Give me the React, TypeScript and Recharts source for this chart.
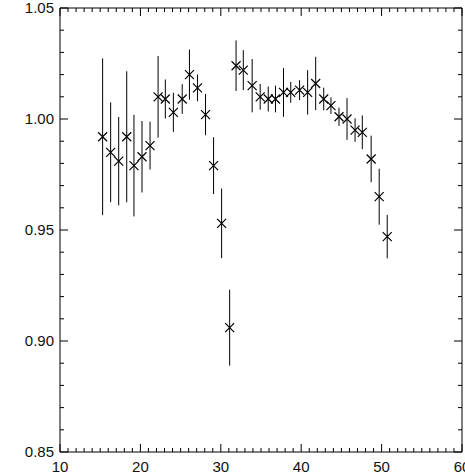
import { ErrorBar, Scatter, ScatterChart, XAxis, YAxis } from "recharts";

const xValues = [
  15.3, 16.3, 17.3, 18.3, 19.2, 20.2, 21.2, 22.2, 23.1, 24.1, 25.2, 26.1, 27.1,
  28.1, 29.1, 30.1, 31.1, 31.9, 32.8, 33.9, 34.9, 35.9, 36.8, 37.8, 38.7, 39.8,
  40.8, 41.8, 42.8, 43.7, 44.7, 45.7, 46.7, 47.6, 48.7, 49.7, 50.7,
];
const yValues = [
  0.992, 0.985, 0.981, 0.992, 0.979, 0.983, 0.988, 1.01, 1.009, 1.003, 1.009,
  1.02, 1.014, 1.002, 0.979, 0.953, 0.906, 1.024, 1.022, 1.015, 1.01, 1.009,
  1.009, 1.012, 1.012, 1.013, 1.012, 1.016, 1.009, 1.006, 1.001, 1.0, 0.995,
  0.994, 0.982, 0.965, 0.947,
];
const yErrors = [
  0.0353, 0.0225, 0.0199, 0.0295, 0.0229, 0.0161, 0.0108, 0.0184, 0.0088,
  0.0088, 0.0067, 0.0113, 0.006, 0.0093, 0.0128, 0.0157, 0.0171, 0.0114, 0.009,
  0.012, 0.0058, 0.0056, 0.006, 0.011, 0.0047, 0.0045, 0.01, 0.012, 0.0051,
  0.0037, 0.0041, 0.0094, 0.0053, 0.0076, 0.0105, 0.0126, 0.0098,
];

const xMajor = [10, 20, 30, 40, 50, 60];
const yMajor = [0.85, 0.9, 0.95, 1.0, 1.05];

// minor ticks every 1 on x, every 0.01 on y
const xTicks = Array.from({ length: 51 }, (_, i) => 10 + i);
const yTicks = Array.from({ length: 21 }, (_, i) => Math.round((0.85 + i * 0.01) * 100) / 100);

const data = xValues.map((x, i) => ({ x, y: yValues[i], err: yErrors[i] }));

const FONT = "'Liberation Sans', Arial, sans-serif";
const MAJOR = 8;
const MINOR = 4;

const isMajor = (list: number[], v: number) => list.some((m) => Math.abs(m - v) < 1e-6);

function BottomTick({ x, y, payload }: any) {
  const major = isMajor(xMajor, payload.value);
  return (
    <g>
      <line x1={x} y1={y} x2={x} y2={y - (major ? MAJOR : MINOR)} stroke="#000" strokeWidth={1} />
      {major && (
        <text x={x} y={y + 20} textAnchor="middle" fontSize={15} fontFamily={FONT} fill="#111">
          {payload.value}
        </text>
      )}
    </g>
  );
}

function TopTick({ x, y, payload }: any) {
  const major = isMajor(xMajor, payload.value);
  return <line x1={x} y1={y} x2={x} y2={y + (major ? MAJOR : MINOR)} stroke="#000" strokeWidth={1} />;
}

function LeftTick({ x, y, payload }: any) {
  const major = isMajor(yMajor, payload.value);
  return (
    <g>
      <line x1={x} y1={y} x2={x + (major ? MAJOR : MINOR)} y2={y} stroke="#000" strokeWidth={1} />
      {major && (
        <text x={x - 6} y={y + 5} textAnchor="end" fontSize={15} fontFamily={FONT} fill="#111">
          {payload.value.toFixed(2)}
        </text>
      )}
    </g>
  );
}

function RightTick({ x, y, payload }: any) {
  const major = isMajor(yMajor, payload.value);
  return <line x1={x} y1={y} x2={x - (major ? MAJOR : MINOR)} y2={y} stroke="#000" strokeWidth={1} />;
}

function Cross({ cx, cy }: any) {
  const s = 4.5;
  return (
    <path
      d={`M${cx - s},${cy - s}L${cx + s},${cy + s}M${cx + s},${cy - s}L${cx - s},${cy + s}`}
      stroke="#000"
      strokeWidth={1.2}
      fill="none"
    />
  );
}

const axisCommon = {
  type: "number" as const,
  interval: 0 as const,
  tickSize: 0,
  tickMargin: 0,
  tickLine: false,
  axisLine: { stroke: "#000" },
};

export default function App() {
  return (
    <div style={{ position: "absolute", left: 0, top: 0, background: "#fff" }}>
      <ScatterChart width={465} height={474} margin={{ top: 7, right: 2, bottom: 0, left: 0 }}>
        <XAxis {...axisCommon} xAxisId="bottom" dataKey="x" domain={[10, 60]} ticks={xTicks} tick={<BottomTick />} height={22} />
        <XAxis {...axisCommon} xAxisId="top" orientation="top" dataKey="x" domain={[10, 60]} ticks={xTicks} tick={<TopTick />} height={1} />
        <YAxis {...axisCommon} yAxisId="left" dataKey="y" domain={[0.85, 1.05]} ticks={yTicks} tick={<LeftTick />} width={60} />
        <YAxis {...axisCommon} yAxisId="right" orientation="right" dataKey="y" domain={[0.85, 1.05]} ticks={yTicks} tick={<RightTick />} width={1} />
        <Scatter xAxisId="bottom" yAxisId="left" data={data} shape={<Cross />} isAnimationActive={false}>
          <ErrorBar dataKey="err" direction="y" width={0} stroke="#000" strokeWidth={1} />
        </Scatter>
        {/* binds the top and right axes so they get drawn */}
        <Scatter xAxisId="top" yAxisId="right" data={data} shape={() => <g />} isAnimationActive={false} />
      </ScatterChart>
    </div>
  );
}
